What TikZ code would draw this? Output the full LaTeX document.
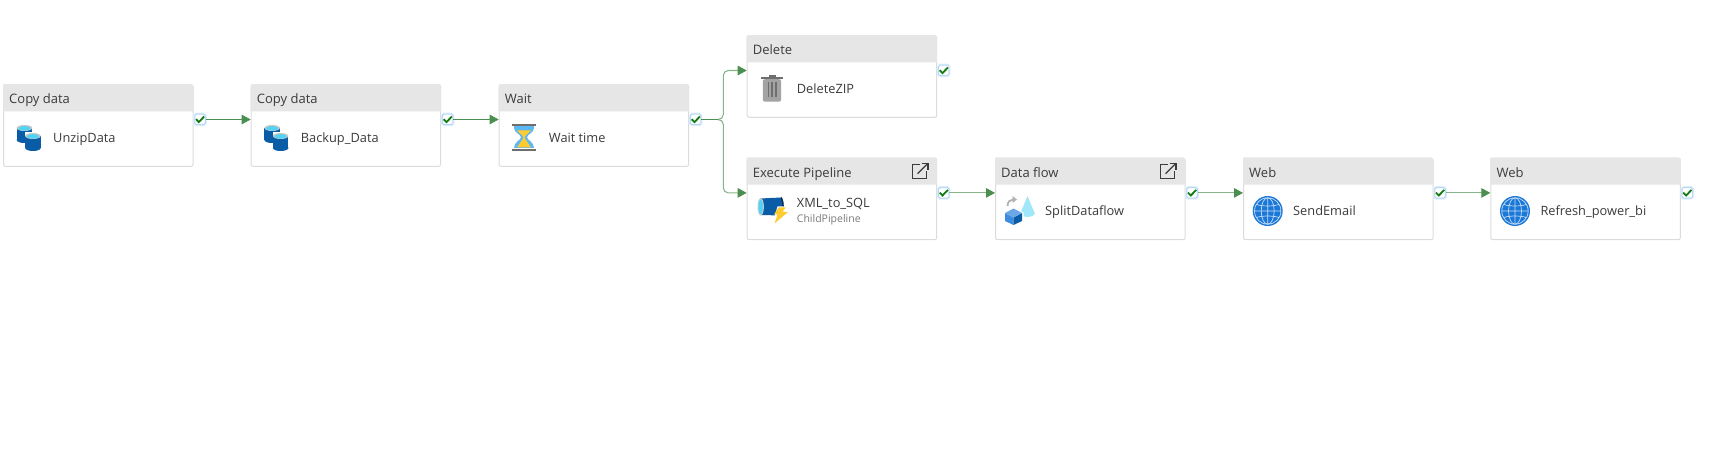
\documentclass[tikz,border=0pt]{standalone}
\usepackage{fontspec}
\setmainfont{Open Sans}
\usetikzlibrary{arrows.meta}

\definecolor{headgray}{HTML}{E6E6E6}
\definecolor{edgegray}{HTML}{DCDCDC}
\definecolor{inkgray}{HTML}{3B3B3B}
\definecolor{subgray}{HTML}{7A7A7A}
\definecolor{flowgreen}{HTML}{4A8F4F}
\definecolor{softgreen}{HTML}{86B58A}
\definecolor{tickgreen}{HTML}{107C10}
\definecolor{azure}{HTML}{0B5CA6}
\definecolor{skyblue}{HTML}{50D4F5}
\definecolor{glassblue}{HTML}{5CB8F2}
\definecolor{globeblue}{HTML}{1B78D8}
\definecolor{sandyellow}{HTML}{FFCB2E}
\definecolor{binfront}{HTML}{A3A3A3}
\definecolor{bindark}{HTML}{6E6E6E}
\definecolor{chkedge}{HTML}{B5D8F6}
\definecolor{chkglow}{HTML}{E0EFFC}

\tikzset{
    activity/.style = {draw = edgegray, fill = white, rounded corners = 2pt, line width = 1pt,
        anchor = north west, minimum width = 189.5pt, minimum height = 81.5pt, inner sep = 0pt},
    headtext/.style = {anchor = base west, inner sep = 0pt, text = inkgray, font = \fontsize{13}{15}\selectfont},
    bodytext/.style = {anchor = base west, inner sep = 0pt, text = inkgray, font = \fontsize{12.8}{15}\selectfont},
    subtext/.style = {anchor = base west, inner sep = 0pt, text = subgray, font = \fontsize{10.5}{12}\selectfont},
    chkbox/.style = {draw = chkedge, fill = white, rounded corners = 1.5pt, line width = 1pt,
        minimum size = 10.5pt, inner sep = 0pt,
        preaction = {draw = chkglow, line width = 3pt}},
    tick/.style = {draw = tickgreen, line width = 1.8pt},
    flow/.style = {draw = flowgreen, line width = .8pt, -{Triangle[length = 9pt, width = 9.5pt, fill = flowgreen]}},
    softflow/.style = {draw = softgreen, line width = 1.1pt, -{Triangle[length = 9pt, width = 9.5pt, color = flowgreen]}},
}

% one activity box with its title, label and tick
\newcommand{\activitybox}[5]{
    \node[activity] (#1) at (#2,#3) {};
    \fill[headgray, rounded corners = 2pt] (#1.north west) -- (#1.north east)
        [sharp corners] -- ([yshift = -27pt]#1.north east) -- ([yshift = -27pt]#1.north west) -- cycle;
    \node[headtext] (#1Head) at ([xshift = 6pt, yshift = -19.4pt]#1.north west) {#4};
    \node[bodytext] (#1Label) at ([xshift = 50pt, yshift = -58pt]#1.north west) {#5};
    \node[chkbox] (#1Chk) at ([xshift = 6.5pt, yshift = -35.2pt]#1.north east) {};
    \draw[tick] ([xshift = -4pt, yshift = .3pt]#1Chk.center) -- ([xshift = -1.2pt, yshift = -2.6pt]#1Chk.center)
        -- ([xshift = 4.2pt, yshift = 3pt]#1Chk.center);
}

\newcommand{\cylshape}[2]{
    \fill[azure] (#1,#2+3) rectangle (#1+15.5,#2+15);
    \fill[azure] (#1+7.75,#2+15) ellipse [x radius = 7.75, y radius = 3];
    \fill[gray!45!white] (#1+7.75,#2+3) ellipse [x radius = 7.75, y radius = 3];
    \fill[skyblue] (#1+7.75,#2+3.4) ellipse [x radius = 6.2, y radius = 2.2];
}
\newcommand{\copyicon}[2]{
    \begin{scope}[shift = {(#1,#2)}]
        \cylshape{0}{0}
        \fill[white] (8.3,7.4) rectangle (25,20);
        \cylshape{8.5}{8}
    \end{scope}
}
\newcommand{\sandicon}[2]{
    \begin{scope}[shift = {(#1,#2)}]
        \fill[glassblue] (2,1.5) -- (22,1.5) -- (22,4) .. controls (22,9) and (15,10) .. (15,13.3)
            .. controls (15,16) and (22,18) .. (22,24) -- (2,24) .. controls (2,18) and (9,16) .. (9,13.3)
            .. controls (9,10) and (2,9) .. (2,4) -- cycle;
        \fill[sandyellow] (5,6.5) -- (19,6.5) .. controls (16,10) and (12.8,11) .. (12.6,14) -- (19,23.5) -- (5,23.5)
            -- (11.4,14) .. controls (11.2,11) and (8,10) .. (5,6.5) -- cycle;
        \fill[bindark] (0,0) rectangle (24,2);
        \fill[bindark] (0,24.6) rectangle (24,26.6);
    \end{scope}
}
\newcommand{\binicon}[2]{
    \begin{scope}[shift = {(#1,#2)}]
        \fill[bindark] (8,0) rectangle (15,2);
        \fill[bindark] (0,1.7) rectangle (22.6,4.2);
        \fill[binfront, rounded corners = 2pt] (2.2,4.2) rectangle (20.4,26.7);
        \foreach \slotx in {6.9,10.7,14.5}
            \fill[bindark] (\slotx,7.5) rectangle (\slotx+1.3,22.5);
    \end{scope}
}
\newcommand{\pipeicon}[2]{
    \begin{scope}[shift = {(#1,#2)}]
        \fill[azure] (3,1.5) -- (24,.5) .. controls (26.5,5) and (26.5,14) .. (24,18.5) -- (3,18) -- cycle;
        \fill[black!55!azure] (23,.5) .. controls (25.5,5) and (25.5,14) .. (23,18.5) -- (24.5,18.5) .. controls (27,14) and (27,5) .. (24.5,.5) -- cycle;
        \fill[gray!40!white] (3.2,9.8) ellipse [x radius = 3.2, y radius = 8.7];
        \fill[skyblue] (3.2,9.8) ellipse [x radius = 2.2, y radius = 7.4];
        \fill[white] (15,26.5) -- (20,9.5) -- (29.5,9.5) -- (27.5,13.5) -- (32,13.5) -- (17,28.5) -- cycle;
        \fill[sandyellow] (17,26.5) -- (20,17.5) -- (16.5,17.5) -- (21,10.5) -- (28,10.5) -- (25,15) -- (30.5,15) -- cycle;
    \end{scope}
}
\newcommand{\flowicon}[2]{
    \begin{scope}[shift = {(#1,#2)}]
        \fill[skyblue!55!white] (22.5,0) -- (30,18) .. controls (27,22) and (18,22) .. (15,18) -- cycle;
        \fill[white] (-1,16.5) -- (8.5,11) -- (18.5,16.5) -- (18.5,26) -- (8.5,30) -- (-1,26) -- cycle;
        \fill[globeblue!85!white] (0,17) -- (8.5,21.5) -- (8.5,29) -- (0,25) -- cycle;
        \fill[azure] (17,17) -- (8.5,21.5) -- (8.5,29) -- (17,25) -- cycle;
        \fill[globeblue!65!white] (0,17) -- (8.5,12.5) -- (17,17) -- (8.5,21.5) -- cycle;
        \draw[gray!60!white, line width = 1.8pt] (2.5,10) .. controls (2.5,6) and (5,3.5) .. (8,3.5);
        \fill[gray!60!white] (7.5,0) -- (12,3.5) -- (7.5,7) -- cycle;
    \end{scope}
}
\newcommand{\globeicon}[2]{
    \begin{scope}[shift = {(#1,#2)}]
        \fill[globeblue] (0,0) circle (15);
        \draw[white!75!globeblue, line width = .7pt] (0,0) circle (13.2) (0,-13.2) -- (0,13.2) (-13.2,0) -- (13.2,0);
        \draw[white!75!globeblue, line width = .7pt] (0,0) ellipse [x radius = 6.5, y radius = 13.2];
        \draw[white!75!globeblue, line width = .7pt] (-11.4,-6.6) .. controls (-6,-4.5) and (6,-4.5) .. (11.4,-6.6);
        \draw[white!75!globeblue, line width = .7pt] (-11.4,6.6) .. controls (-6,4.5) and (6,4.5) .. (11.4,6.6);
    \end{scope}
}
\newcommand{\openicon}[2]{
    \begin{scope}[shift = {(#1,#2)}]
        \draw[inkgray, line width = 1.2pt] (8,2) -- (.7,2) -- (.7,16) -- (14.7,16) -- (14.7,8.5);
        \draw[inkgray, line width = 1.2pt] (5.5,11) -- (16,.6);
        \draw[inkgray, line width = 1.2pt] (9.5,.6) -- (16,.6) -- (16,7);
    \end{scope}
}

\begin{document}
\begin{tikzpicture}[x = 1pt, y = -1pt]
    \useasboundingbox (0,0) rectangle (1713,462);
    \activitybox{unzip}{3}{84.3}{Copy data}{UnzipData}
    \activitybox{backup}{250.7}{84.3}{Copy data}{Backup\_Data}
    \activitybox{waittime}{498.7}{84.3}{Wait}{Wait time}
    \activitybox{deletezip}{746.7}{35.3}{Delete}{DeleteZIP}
    \activitybox{xmlsql}{746.7}{157.7}{Execute Pipeline}{}
    \activitybox{split}{995}{157.7}{Data flow}{SplitDataflow}
    \activitybox{sendmail}{1243}{157.7}{Web}{SendEmail}
    \activitybox{refresh}{1490.3}{157.7}{Web}{Refresh\_power\_bi}

    \node[bodytext] (xmlsqlName) at (796.7,207.5) {XML\_to\_SQL};
    \node[subtext] (xmlsqlChild) at (796.7,223) {ChildPipeline};

    \coordinate (branch) at (723.3,119.5);
    \coordinate (stem) at (717.5,119.5);
    \draw[flow] (unzipChk.east) -- (unzipChk -| backup.west);
    \draw[flow] (backupChk.east) -- (backupChk -| waittime.west);
    \draw[softflow, rounded corners = 5pt] (stem) -- (branch) |- (deletezipChk -| deletezip.west);
    \draw[softflow, rounded corners = 5pt] (stem) -- (branch) |- (xmlsqlChk -| xmlsql.west);
    \draw[flowgreen, line width = .9pt] (waittimeChk.east) -- (stem);
    \draw[softflow] (xmlsqlChk.east) -- (xmlsqlChk -| split.west);
    \draw[softflow] (splitChk.east) -- (splitChk -| sendmail.west);
    \draw[softflow] (sendmailChk.east) -- (sendmailChk -| refresh.west);

    \copyicon{16.7}{125}
    \copyicon{264.4}{125}
    \sandicon{512}{124}
    \binicon{760.7}{75}
    \pipeicon{757.5}{197}
    \flowicon{1005}{196}
    \globeicon{1267.7}{211}
    \globeicon{1515}{211}
    \openicon{912}{162.7}
    \openicon{1160}{162.7}
\end{tikzpicture}
\end{document}
